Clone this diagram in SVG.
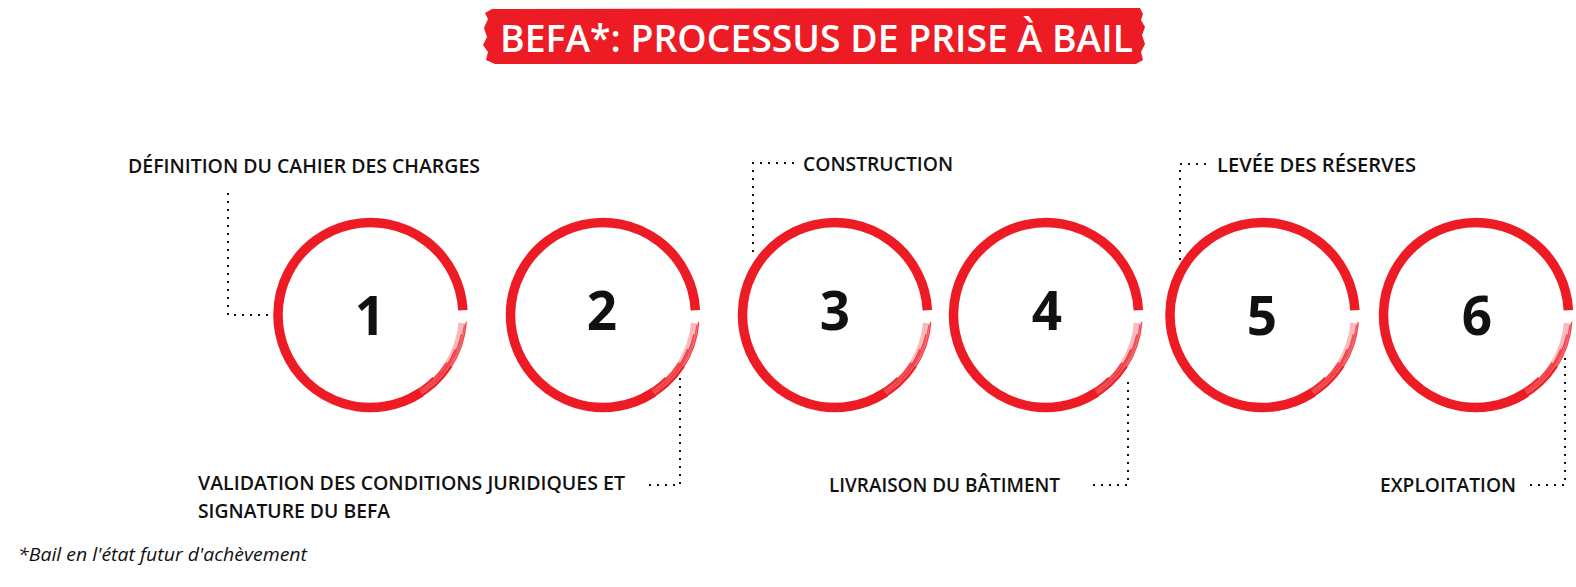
<svg xmlns="http://www.w3.org/2000/svg" xmlns:xlink="http://www.w3.org/1999/xlink" width="1576" height="587" viewBox="0 0 1576 587">
  <style>
    .lbl { font-family: "Open Sans", "Liberation Sans", sans-serif; font-weight: 600; font-size: 19.3px; fill: #111; }
    .num { font-family: "Open Sans", "Liberation Sans", sans-serif; font-weight: 700; font-size: 53px; fill: #111; text-anchor: middle; }
    .title { font-family: "Open Sans", "Liberation Sans", sans-serif; font-weight: 600; font-size: 37px; fill: #fff; }
    .note { font-family: "Open Sans", "Liberation Sans", sans-serif; font-style: italic; font-weight: 400; font-size: 17.5px; fill: #111; }
    .dots { fill: none; stroke: #111; stroke-width: 2; stroke-dasharray: 2 6; }
    .ring { fill: none; stroke: #ED1C24; }
  </style>
  <defs>
    <g id="ring">
      <path class="ring" stroke-width="9.5" d="M50.38,77.57 A92.5,92.5 0 1 1 92.37,-4.84"/>
      <path class="ring" stroke-width="8.5" opacity="0.3" d="M92.15,8.06 A92.5,92.5 0 0 1 46.25,80.11"/>
      <path class="ring" stroke-width="1.3" opacity="0.75" d="M95.77,6.70 A96,96 0 0 1 42.08,86.28"/>
      <path class="ring" stroke-width="1.3" opacity="0.65" d="M93.98,9.88 A94.5,94.5 0 0 1 41.43,84.94"/>
      <path class="ring" stroke-width="1.5" opacity="0.75" d="M90.97,19.34 A93,93 0 0 1 40.77,83.59"/>
      <path class="ring" stroke-width="1.6" opacity="0.8" d="M84.84,34.28 A91.5,91.5 0 0 1 40.11,82.24"/>
      <path class="ring" stroke-width="1.6" opacity="0.85" d="M76.32,47.69 A90,90 0 0 1 39.45,80.89"/>
      <path class="ring" stroke-width="1.8" opacity="0.9" d="M62.58,62.58 A88.5,88.5 0 0 1 38.80,79.54"/>
      <path class="ring" stroke-width="2" opacity="0.9" d="M80.9,51.4 A95.5,95.5 0 0 1 45,84.2"/>
    </g>
  </defs>
  <rect width="1576" height="587" fill="#fff"/>

  <g id="title">
    <path fill="#ED1C24" d="M492,9 L1140,8 L1143,14 L1141,20 L1145,27 L1142,35 L1145,44 L1141,52 L1143,60 L1136,64 L495,64 L486,60 L488,52 L483,45 L487,37 L484,28 L488,19 L485,13 Z"/>
    <text class="title" x="500" y="52.3" textLength="633" lengthAdjust="spacingAndGlyphs">BEFA*: PROCESSUS DE PRISE À BAIL</text>
  </g>

  <g id="connectors">
    <path class="dots" d="M228,193 V315 H268"/>
    <path class="dots" d="M680,378 V485 H646"/>
    <path class="dots" d="M753,252 V163 H795"/>
    <path class="dots" d="M1128,382 V485 H1093"/>
    <path class="dots" d="M1180,268 V164 H1210"/>
    <path class="dots" d="M1565,358 V485 H1528"/>
  </g>

  <g id="node1">
    <use xlink:href="#ring" href="#ring" transform="translate(370.5,315)"/>
    <text class="num" x="370" y="335">1</text>
    <text class="lbl" x="128" y="172.5" textLength="352" lengthAdjust="spacingAndGlyphs">DÉFINITION DU CAHIER DES CHARGES</text>
  </g>
  <g id="node2">
    <use xlink:href="#ring" href="#ring" transform="translate(603,315)"/>
    <text class="num" x="602" y="330">2</text>
    <text class="lbl" x="198" y="489.5" textLength="427" lengthAdjust="spacingAndGlyphs">VALIDATION DES CONDITIONS JURIDIQUES ET</text>
    <text class="lbl" x="198" y="518" textLength="192" lengthAdjust="spacingAndGlyphs">SIGNATURE DU BEFA</text>
  </g>
  <g id="node3">
    <use xlink:href="#ring" href="#ring" transform="translate(835,315)"/>
    <text class="num" x="835" y="330">3</text>
    <text class="lbl" x="803" y="171" textLength="150" lengthAdjust="spacingAndGlyphs">CONSTRUCTION</text>
  </g>
  <g id="node4">
    <use xlink:href="#ring" href="#ring" transform="translate(1046,315)"/>
    <text class="num" x="1047" y="330">4</text>
    <text class="lbl" x="829" y="492" textLength="231" lengthAdjust="spacingAndGlyphs">LIVRAISON DU BÂTIMENT</text>
  </g>
  <g id="node5">
    <use xlink:href="#ring" href="#ring" transform="translate(1262.5,315)"/>
    <text class="num" x="1262" y="335">5</text>
    <text class="lbl" x="1217" y="172" textLength="199" lengthAdjust="spacingAndGlyphs">LEVÉE DES RÉSERVES</text>
  </g>
  <g id="node6">
    <use xlink:href="#ring" href="#ring" transform="translate(1476,315)"/>
    <text class="num" x="1477" y="335">6</text>
    <text class="lbl" x="1380" y="491.5" textLength="136" lengthAdjust="spacingAndGlyphs">EXPLOITATION</text>
  </g>

  <g id="footnote">
    <text class="note" x="18" y="561" textLength="289" lengthAdjust="spacingAndGlyphs">*Bail en l'état futur d'achèvement</text>
  </g>
</svg>
